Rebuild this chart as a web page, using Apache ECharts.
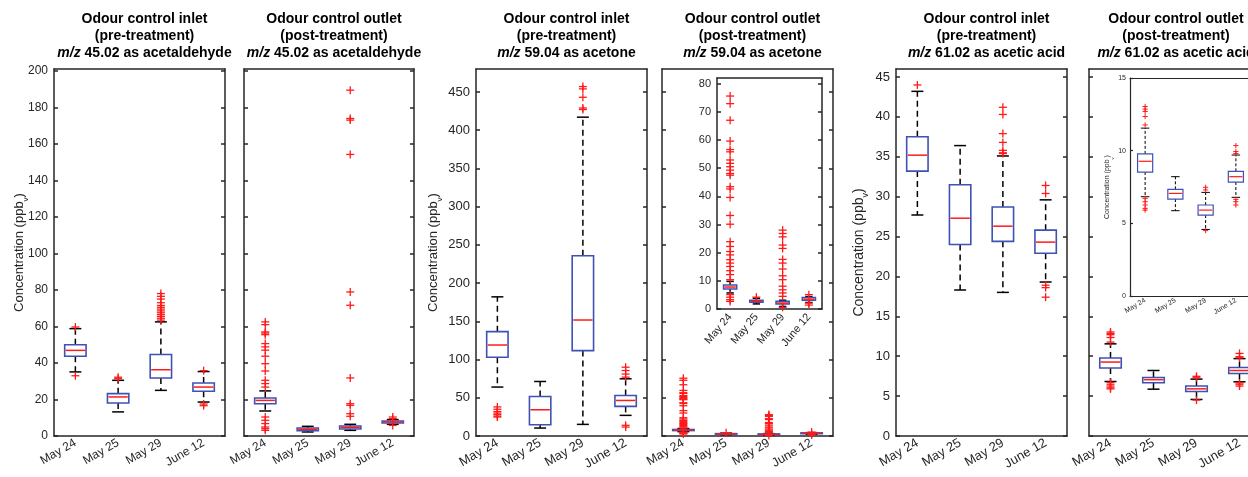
<!DOCTYPE html>
<html><head><meta charset="utf-8">
<script src="https://cdn.jsdelivr.net/npm/echarts@6/dist/echarts.min.js"></script>
<style>html,body{margin:0;padding:0;overflow:hidden;background:#fff}#c{width:1270px;height:477px}</style>
</head><body><div id="c"></div><script>
// ---------- DATA ----------
const categories = ['May 24', 'May 25', 'May 29', 'June 12'];
// box stats: [lower whisker, Q1, median, Q3, upper whisker]
const acetaldehydeInletBox = [[35.1, 43.7, 46.9, 50.0, 58.8], [13.2, 18.1, 21.4, 23.2, 30.5], [25.0, 31.8, 36.3, 44.6, 62.5], [18.6, 24.5, 26.8, 29.0, 35.3]];
const acetaldehydeInletOut = [[59.7, 33.0], [32.2, 31.4], [78, 76.5, 75, 73, 71.5, 70.5, 69.5, 68.5, 67.5, 66.5, 65.5, 64.5, 63.5], [35.8, 17.5, 16.6]];
const acetaldehydeOutletBox = [[13.7, 17.7, 19.5, 20.8, 24.7], [2.2, 2.9, 3.7, 4.4, 5.3], [3.1, 3.8, 4.7, 5.5, 6.4], [6.4, 7.1, 7.7, 8.2, 9.0]];
const acetaldehydeOutletOut = [[62.5, 61, 57, 56.4, 55.5, 50.6, 48.8, 47, 43.7, 39.6, 35.6, 30.5, 28.7, 26.8, 10.4, 8.6, 6.8, 4.9, 4.0, 3.1], [], [189.4, 173.9, 173, 154.2, 78.9, 71.6, 31.8, 17.7, 16.8, 12.2, 10.8], [10.4, 9.5, 5.8]];
const acetoneInletBox = [[64, 103, 119, 136.5, 182], [10.4, 14.8, 34.3, 51.7, 71.3], [15.2, 111.7, 151.7, 235.7, 417], [27, 38.7, 46.5, 53, 74.8]];
const acetoneInletOut = [[38, 35, 32, 30, 28, 26, 24.8], [], [457, 454, 443, 429, 427], [90, 85.6, 81, 77, 14, 11.7]];
const acetoneOutletBox = [[5.7, 7.1, 7.8, 8.5, 9.8], [1.8, 2.4, 2.7, 3.1, 3.8], [0.9, 1.8, 2.1, 2.7, 3.1], [2.3, 3.1, 3.5, 4.1, 4.4]];
const acetoneOutletOut = [[75.6, 72.9, 67, 59.6, 56.6, 55.8, 52.9, 51.7, 50.5, 49.3, 48.1, 47.5, 43.4, 42.6, 39.6, 33.2, 30.1, 23.9, 22.2, 20.4, 19.2, 17.5, 16.3, 15.1, 13.6, 12.2, 10.4, 5.1, 4.2, 3.3, 2.7], [4.2], [28, 26.8, 25.6, 22.7, 21.5, 17.6, 16.3, 14.2, 11.8, 10.4, 8.1, 6.8, 5.7, 4.5, 0.6], [5.1, 2.1, 1.4]];
const aceticInletBox = [[27.7, 33.2, 35.2, 37.5, 43.2], [18.3, 24.0, 27.3, 31.5, 36.4], [18.0, 24.4, 26.3, 28.7, 35.1], [19.3, 22.9, 24.3, 25.8, 29.6]];
const aceticInletOut = [[44.0], [], [41.2, 40.3, 37.9, 36.8, 35.8, 35.5, 35.4], [31.4, 30.4, 18.9, 18.6, 17.4]];
const aceticOutletBox = [[6.83, 8.53, 9.27, 9.78, 11.55], [5.87, 6.67, 7.06, 7.34, 8.21], [4.58, 5.57, 5.91, 6.26, 7.13], [6.79, 7.84, 8.21, 8.58, 9.7]];
const aceticOutletOut = [[13.04, 12.86, 12.7, 12.35, 11.77, 6.72, 6.49, 6.26, 6.03, 5.91], [], [7.48, 7.3, 4.5], [10.35, 9.94, 9.8, 6.65, 6.49, 6.26]];
const ticksAcetaldehyde = [0, 20, 40, 60, 80, 100, 120, 140, 160, 180, 200];
const ticksAcetone = [0, 50, 100, 150, 200, 250, 300, 350, 400, 450];
const ticksAcetoneInset = [0, 10, 20, 30, 40, 50, 60, 70, 80];
const ticksAcetic = [0, 5, 10, 15, 20, 25, 30, 35, 40, 45];
const ticksAceticInset = [0, 5, 10, 15];
const titleLines = [
  ['Odour control inlet', '(pre-treatment)', '45.02 as acetaldehyde'],
  ['Odour control outlet', '(post-treatment)', '45.02 as acetaldehyde'],
  ['Odour control inlet', '(pre-treatment)', '59.04 as acetone'],
  ['Odour control outlet', '(post-treatment)', '59.04 as acetone'],
  ['Odour control inlet', '(pre-treatment)', '61.02 as acetic acid'],
  ['Odour control outlet', '(post-treatment)', '61.02 as acetic acid']
];
const yName = 'Concentration (ppb';
const ySub = 'v';

// ---------- LAYOUT ----------
const FONT = '"Liberation Sans", Arial, sans-serif';
const AX = '#262626';
const BLUE = '#3f51b5';
const RED = '#ff1a1a';
const panels = [
  {left: 54, top: 69, width: 171, height: 367, max: 201, ticks: ticksAcetaldehyde, labels: true, box: acetaldehydeInletBox, out: acetaldehydeInletOut, name: true, nameGap: 26, fs: 12},
  {left: 244, top: 69, width: 170, height: 367, max: 201, ticks: ticksAcetaldehyde, labels: false, box: acetaldehydeOutletBox, out: acetaldehydeOutletOut, fs: 12},
  {left: 476, top: 69, width: 171, height: 367, max: 480, ticks: ticksAcetone, labels: true, box: acetoneInletBox, out: acetoneInletOut, name: true, nameGap: 34, fs: 13},
  {left: 662, top: 69, width: 171, height: 367, max: 480, ticks: ticksAcetone, labels: false, box: acetoneOutletBox, out: acetoneOutletOut, fs: 12.5},
  {left: 896, top: 69, width: 171, height: 367, max: 46, ticks: ticksAcetic, labels: true, box: aceticInletBox, out: aceticInletOut, name: true, nameGap: 28, fs: 13, nfs: 14},
  {left: 1089, top: 69, width: 172, height: 367, max: 46, ticks: ticksAcetic, labels: false, box: aceticOutletBox, out: aceticOutletOut, titleX: 1171, fs: 13},
  {left: 717, top: 78, width: 105, height: 231, max: 82, ticks: ticksAcetoneInset, labels: true, box: acetoneOutletBox, out: acetoneOutletOut, inset: 'a', fs: 11, rot: 50},
  {left: 1130, top: 78, width: 121, height: 218, max: 15, ticks: ticksAceticInset, labels: true, box: aceticOutletBox, out: aceticOutletOut, inset: 'b', fs: 7, rot: 30, name: true, nameGap: 17, nfs: 7}
];

const grids = [], xAxes = [], yAxes = [], series = [], titles = [];
panels.forEach((p, g) => {
  const fs = p.fs || 12;
  const lw = p.inset === 'b' ? 1.2 : 1.5;
  grids.push({left: p.left, top: p.top, width: p.width, height: p.height, containLabel: false, z: p.inset ? 5 : 2});
  const axLine = {show: true, onZero: false, lineStyle: {color: AX, width: lw}};
  const tickLen = p.inset === 'b' ? 3 : 4;
  xAxes.push({type: 'category', gridIndex: g, data: categories, boundaryGap: true, position: 'bottom',
    axisLine: axLine, axisTick: {inside: true, alignWithLabel: true, length: tickLen, lineStyle: {color: AX, width: lw}},
    axisLabel: {rotate: p.rot || 30, interval: 0, fontSize: fs, color: AX, fontFamily: FONT, margin: p.inset === 'b' ? 4 : 6},
    splitLine: {show: false}, z: p.inset ? 6 : 3});
  xAxes.push({type: 'category', gridIndex: g, data: categories, boundaryGap: true, position: 'top',
    axisLine: axLine, axisTick: {inside: true, alignWithLabel: true, length: tickLen, lineStyle: {color: AX, width: lw}},
    axisLabel: {show: false}, splitLine: {show: false}, z: p.inset ? 6 : 3});
  const yl = {type: 'value', gridIndex: g, min: 0, max: p.max, position: 'left',
    axisLine: axLine,
    axisTick: {show: true, inside: true, length: tickLen, customValues: p.ticks, lineStyle: {color: AX, width: lw}},
    axisLabel: {show: p.labels, customValues: p.ticks, fontSize: fs, color: AX, fontFamily: FONT, margin: p.inset === 'b' ? 4 : 6},
    splitLine: {show: false}, z: p.inset ? 6 : 3};
  if (p.name) {
    const nfs = p.nfs || 13;
    yl.name = '{t|' + yName + '}{s|' + ySub + '}{t|)}';
    yl.nameLocation = 'middle';
    yl.nameGap = p.nameGap;
    yl.nameRotate = 90;
    yl.nameMoveOverlap = false;
    yl.nameTextStyle = {rich: {
      t: {fontSize: nfs, fontFamily: FONT, color: AX, lineHeight: nfs + 4},
      s: {fontSize: Math.round(nfs * 0.62), fontFamily: FONT, color: AX, lineHeight: nfs + 4, verticalAlign: 'bottom', padding: [0, 0, -2, 0]}
    }};
  }
  yAxes.push(yl);
  yAxes.push({type: 'value', gridIndex: g, min: 0, max: p.max, position: 'right',
    axisLine: axLine,
    axisTick: {show: true, inside: true, length: tickLen, customValues: p.ticks, lineStyle: {color: AX, width: lw}},
    axisLabel: {show: false}, splitLine: {show: false}, z: p.inset ? 6 : 3});

  const small = p.inset === 'b';
  const boxData = p.box.map((b, i) => [i].concat(b));
  series.push({type: 'custom', xAxisIndex: 2 * g, yAxisIndex: 2 * g, clip: false, z: p.inset ? 10 : 4,
    encode: {x: 0, y: [1, 2, 3, 4, 5]}, data: boxData,
    renderItem: function (params, api) {
      const c = api.value(0);
      const pMin = api.coord([c, api.value(1)]);
      const pQ1 = api.coord([c, api.value(2)]);
      const pMed = api.coord([c, api.value(3)]);
      const pQ3 = api.coord([c, api.value(4)]);
      const pMax = api.coord([c, api.value(5)]);
      const band = api.size([1, 0])[0];
      const bw = band * 0.5, cw = band * 0.28;
      const x = pMed[0];
      const wl = small ? 1 : 1.5;
      const dash = {stroke: '#000', lineWidth: wl, lineDash: small ? [3, 2] : [6, 4], fill: 'none'};
      const solid = {stroke: '#000', lineWidth: wl, fill: 'none'};
      return {type: 'group', children: [
        {type: 'line', shape: {x1: x, y1: pQ3[1], x2: x, y2: pMax[1]}, style: dash},
        {type: 'line', shape: {x1: x, y1: pQ1[1], x2: x, y2: pMin[1]}, style: dash},
        {type: 'line', shape: {x1: x - cw / 2, y1: pMax[1], x2: x + cw / 2, y2: pMax[1]}, style: solid},
        {type: 'line', shape: {x1: x - cw / 2, y1: pMin[1], x2: x + cw / 2, y2: pMin[1]}, style: solid},
        {type: 'rect', shape: {x: x - bw / 2, y: pQ3[1], width: bw, height: pQ1[1] - pQ3[1]}, style: {fill: 'none', stroke: BLUE, lineWidth: small ? 1.2 : 1.6}},
        {type: 'line', shape: {x1: x - bw / 2 + 1, y1: pMed[1], x2: x + bw / 2 - 1, y2: pMed[1]}, style: {stroke: RED, lineWidth: small ? 1.2 : 1.5}}
      ]};
    }
  });
  const outData = [];
  p.out.forEach((arr, i) => arr.forEach(v => outData.push([i, v])));
  const s = small ? 2.6 : 4;
  series.push({type: 'custom', xAxisIndex: 2 * g, yAxisIndex: 2 * g, clip: false, z: p.inset ? 11 : 5,
    encode: {x: 0, y: 1}, data: outData,
    renderItem: function (params, api) {
      const pt = api.coord([api.value(0), api.value(1)]);
      const st = {stroke: RED, lineWidth: small ? 1 : 1.3};
      return {type: 'group', children: [
        {type: 'line', shape: {x1: pt[0] - s, y1: pt[1], x2: pt[0] + s, y2: pt[1]}, style: st},
        {type: 'line', shape: {x1: pt[0], y1: pt[1] - s, x2: pt[0], y2: pt[1] + s}, style: st}
      ]};
    }
  });
  if (g < 6) {
    const t = titleLines[g];
    titles.push({
      text: '{b|' + t[0] + '}\n{b|' + t[1] + '}\n{i|m/z}{b| ' + t[2] + '}',
      left: p.titleX || (p.left + p.width / 2), top: 6, textAlign: 'center',
      textStyle: {rich: {
        b: {fontSize: 14, fontWeight: 'bold', fontFamily: FONT, color: '#000', lineHeight: 17},
        i: {fontSize: 14, fontWeight: 'bold', fontStyle: 'italic', fontFamily: FONT, color: '#000', lineHeight: 17}
      }}
    });
  }
});

const chart = echarts.init(document.getElementById('c'), null, {renderer: 'canvas'});
chart.setOption({
  animation: false,
  backgroundColor: '#fff',
  title: titles,
  grid: grids,
  xAxis: xAxes,
  yAxis: yAxes,
  series: series
});
</script></body></html>
